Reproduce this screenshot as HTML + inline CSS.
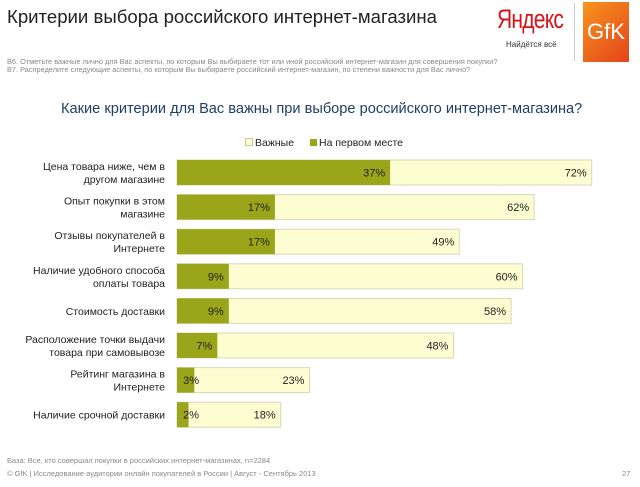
<!DOCTYPE html>
<html><head><meta charset="utf-8">
<style>
body{margin:0;width:640px;height:487px;background:#fff;font-family:"Liberation Sans",sans-serif;position:relative;overflow:hidden}
.a{position:absolute;white-space:nowrap}
</style></head><body>
<div class="a" style="left:7px;top:6px;font-size:18.6px;color:#222">Критерии выбора российского интернет-магазина</div>
<div class="a" style="left:497px;top:4px;font-size:27px;color:#d8141b;letter-spacing:-1px;transform:scaleX(0.78);transform-origin:left">Яндекс</div>
<div class="a" style="left:506px;top:40px;font-size:8px;color:#333">Найдётся всё</div>
<div class="a" style="left:574px;top:3px;width:1px;height:58px;background:#ccc"></div>
<div class="a" style="left:583px;top:2px;width:46px;height:60px;background:linear-gradient(135deg,#f7941d,#e4431b);color:#fff;font-size:22px;line-height:60px;text-align:center">GfK</div>
<div class="a" style="left:7px;top:57px;font-size:7.6px;color:#888;transform:scaleX(0.97);transform-origin:left">В6. Отметьте важные лично для Вас аспекты, по которым Вы выбираете тот или иной российский интернет-магазин для совершения покупки?</div>
<div class="a" style="left:7px;top:65px;font-size:7.6px;color:#888;transform:scaleX(0.97);transform-origin:left">В7. Распределите следующие аспекты, по которым Вы выбираете российский интернет-магазин, по степени важности для Вас лично?</div>
<div class="a" style="left:61px;top:101px;font-size:14.6px;color:#1f3f66">Какие критерии для Вас важны при выборе российского интернет-магазина?</div>
<div class="a" style="left:245px;top:137px;font-size:10.5px;color:#222"><span style="display:inline-block;width:6px;height:6px;border:1px solid #c8c8a0;background:#fdfdd0;margin-right:2px"></span>Важные</div>
<div class="a" style="left:310px;top:137px;font-size:10.5px;color:#222"><span style="display:inline-block;width:7px;height:7px;background:#9aa51a;margin-right:2px"></span>На первом месте</div>
<svg class="a" style="left:0;top:0" width="640" height="487" id="chart"></svg>
<div class="a" style="left:7px;top:456px;font-size:7.5px;color:#888">База: Все, кто совершал покупки в российских интернет-магазинах, n=2284</div>
<div class="a" style="left:7px;top:469px;font-size:7.5px;color:#888">© GfK | Исследование аудитории онлайн покупателей в России | Август - Сентябрь 2013</div>
<div class="a" style="left:622px;top:469px;font-size:7.5px;color:#888">27</div>
<script>
const categories=[["Цена товара ниже, чем в","другом магазине"],["Опыт покупки в этом","магазине"],["Отзывы покупателей в","Интернете"],["Наличие удобного способа","оплаты товара"],["Стоимость доставки"],["Расположение точки выдачи","товара при самовывозе"],["Рейтинг магазина в","Интернете"],["Наличие срочной доставки"]];
const important=[72,62,49,60,58,48,23,18];
const firstPlace=[37,17,17,9,9,7,3,2];
const NS="http://www.w3.org/2000/svg";
const svg=document.getElementById('chart');
const x0=177,scale=5.76,y0=172.5,step=34.6,bh=25;
const xs=v=>x0+v*scale, yc=i=>y0+i*step;
function mk(t,a){const e=document.createElementNS(NS,t);for(const k in a)e.setAttribute(k,a[k]);svg.appendChild(e);return e;}
categories.forEach((c,i)=>{
 const y=yc(i);
 const r1=mk('rect',{x:x0,y:y-bh/2,width:xs(important[i])-x0,height:bh,fill:'#fdfdd2',stroke:'#d8d8b8','stroke-width':1});
 
 
 const r2=mk('rect',{x:x0,y:y-bh/2,width:xs(firstPlace[i])-x0,height:bh,fill:'#9aa51a'});
 
 
 const t1=mk('text',{x:xs(important[i])-5,y:y+4,'text-anchor':'end','font-size':11,fill:'#222'});t1.textContent=important[i]+'%';
 
 
 const t2=mk('text',{x:Math.max(xs(firstPlace[i])-5,199),y:y+4,'text-anchor':'end','font-size':11,fill:'#222'});t2.textContent=firstPlace[i]+'%';
 
 
 c.forEach((ln,j)=>{
  const t=mk('text',{x:165,y:y+4+(j-(c.length-1)/2)*13,'text-anchor':'end','font-size':10.5,fill:'#222'});t.textContent=ln;
  
  
 });
});
</script>
</body></html>
